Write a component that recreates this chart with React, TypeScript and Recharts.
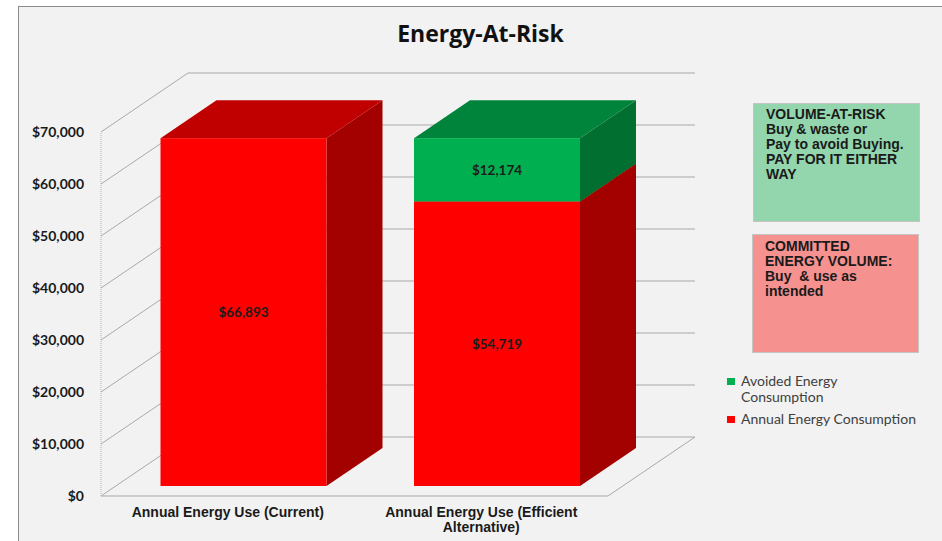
import React from 'react';
import { BarChart, Bar, XAxis, YAxis, CartesianGrid, Legend, LabelList, Text } from 'recharts';

// data
const categories = ['Annual Energy Use (Current)', 'Annual Energy Use (Efficient Alternative)'];
const annualConsumption = [66893, 54719];
const avoidedConsumption = [0, 12174];
const yTicks = [0, 10000, 20000, 30000, 40000, 50000, 60000, 70000];

const data = categories.map((name, i) => ({
  name,
  annual: annualConsumption[i],
  avoided: avoidedConsumption[i],
}));

const W = 942;
const H = 541;
const PLOT_LEFT = 116.5;
const PLOT_RIGHT = 623.5;
const PLOT_TOP = 122;
const PLOT_BOTTOM = 486;

// 3D offsets: front of the walls vs the bar front, wall depth, bar depth
const FX = 15.5;
const FY = 10;
const DX = 87;
const DY = 59;
const BDX = 56;
const BDY = 38;

const GRID = '#a9a9a9';
const FONT = 'Lato, "Open Sans", sans-serif';
const ARIAL = '"Liberation Sans", Arial, sans-serif';

const money = (v: number) => '$' + v.toLocaleString('en-US');

const box3d = (top: string, side: string) => (props: any) => {
  const { x, y, width, height, fill } = props;
  if (!height || height <= 0) return <g />;
  const r = x + width;
  const b = y + height;
  return (
    <g>
      <polygon points={`${r},${y} ${r + BDX},${y - BDY} ${r + BDX},${b - BDY} ${r},${b}`} fill={side} />
      <polygon points={`${x},${y} ${x + BDX},${y - BDY} ${r + BDX},${y - BDY} ${r},${y}`} fill={top} />
      <rect x={x} y={y} width={width} height={height} fill={fill} />
    </g>
  );
};

const gridLine = (p: any) => {
  const { x1, x2, y1, index } = p;
  const fx = x1 - FX;
  const fx2 = x2 - FX;
  const fy = y1 + FY;
  const bx = fx + DX;
  const bx2 = fx2 + DX;
  const by = fy - DY;
  const isFloor = Math.abs(y1 - PLOT_BOTTOM) < 1;
  return (
    <g key={`grid-${index}`}>
      <line x1={fx} y1={fy} x2={bx} y2={by} stroke={GRID} />
      <line x1={bx} y1={by} x2={bx2} y2={by} stroke={GRID} />
      {isFloor && (
        <g>
          <line x1={fx} y1={fy} x2={fx2} y2={fy} stroke={GRID} />
          <line x1={fx2} y1={fy} x2={bx2} y2={by} stroke={GRID} />
          <line x1={fx} y1={fy} x2={fx} y2={PLOT_TOP + FY} stroke="#b5b5b5" strokeDasharray="1 1" />
        </g>
      )}
    </g>
  );
};

const YTick = (p: any) => (
  <text
    x={PLOT_LEFT - FX - 17}
    y={p.y + FY}
    dy={5}
    textAnchor="end"
    fill="#1a1a1a"
    style={{ fontFamily: FONT, fontWeight: 700, fontSize: 14 }}
  >
    {money(p.payload.value)}
  </text>
);

const labelStyle = { fontFamily: ARIAL, fontWeight: 700, fontSize: 14 };

const XTick = (p: any) => (
  <Text
    x={p.x - FX}
    y={PLOT_BOTTOM + 21}
    width={250}
    lineHeight={15}
    textAnchor="middle"
    verticalAnchor="start"
    fill="#1a1a1a"
    style={labelStyle}
  >
    {p.payload.value}
  </Text>
);

const valueLabel = (p: any) => {
  const vb = p.viewBox || p;
  const x = vb.x ?? p.x;
  const y = vb.y ?? p.y;
  const width = vb.width ?? p.width;
  const height = vb.height ?? p.height;
  if (!p.value) return null;
  return (
    <text
      x={x + width / 2}
      y={y + height / 2}
      dy={5}
      textAnchor="middle"
      fill="#1c1c1c"
      style={{ fontFamily: FONT, fontWeight: 700, fontSize: 13.5 }}
    >
      {money(p.value)}
    </text>
  );
};

const LegendContent = ({ payload }: any) => (
  <div style={{ fontFamily: FONT, fontSize: 14, color: '#404040' }}>
    {[...(payload || [])].reverse().map((e: any) => (
      <div key={e.value} style={{ display: 'flex', alignItems: 'flex-start', marginBottom: 7 }}>
        <span style={{ width: 8, height: 7, background: e.color, marginTop: 4, marginRight: 6, flex: 'none' }} />
        <span style={{ lineHeight: '16px', maxWidth: 178, marginTop: -1 }}>{e.value}</span>
      </div>
    ))}
  </div>
);

const noteText = {
  position: 'absolute' as const,
  fontFamily: ARIAL,
  fontWeight: 700,
  fontSize: 14,
  lineHeight: '15px',
  color: '#1a1a1a',
  boxSizing: 'border-box' as const,
  border: '1px solid #c4c4c4',
  width: 167,
  height: 119,
};

export default function App() {
  return (
    <div style={{ position: 'absolute', left: 0, top: 0, width: W, height: H, background: '#fff', overflow: 'hidden' }}>
      <div
        style={{
          position: 'absolute',
          left: 18,
          top: 6,
          width: W,
          height: H,
          background: '#f2f2f2',
          borderLeft: '1px solid #8a8a8a',
          borderTop: '1px solid #8a8a8a',
        }}
      />
      <div
        style={{
          position: 'absolute',
          left: 0,
          width: 961,
          top: 22,
          textAlign: 'center',
          fontFamily: '"Open Sans", Lato, sans-serif',
          fontWeight: 700,
          fontSize: 23,
          lineHeight: '23px',
          color: '#111',
        }}
      >
        Energy-At-Risk
      </div>
      <div style={{ position: 'absolute', left: 0, top: 0 }}>
        <BarChart width={W} height={H} data={data} margin={{ top: PLOT_TOP, right: W - PLOT_RIGHT, left: 0, bottom: H - PLOT_BOTTOM - 30 }}>
          <CartesianGrid vertical={false} horizontal={gridLine} />
          <XAxis dataKey="name" axisLine={false} tickLine={false} interval={0} height={30} tick={XTick} />
          <YAxis
            type="number"
            domain={[0, 70000]}
            ticks={yTicks}
            interval={0}
            axisLine={false}
            tickLine={false}
            width={PLOT_LEFT}
            tick={YTick}
          />
          <Legend
            layout="vertical"
            align="center"
            verticalAlign="middle"
            wrapperStyle={{ left: 727, top: 374, width: 200 }}
            content={<LegendContent />}
          />
          <Bar
            dataKey="annual"
            name="Annual Energy Consumption"
            stackId="s"
            fill="#ff0000"
            barSize={166}
            shape={box3d('#c00000', '#a30000')}
            isAnimationActive={false}
          >
            <LabelList dataKey="annual" content={valueLabel} />
          </Bar>
          <Bar
            dataKey="avoided"
            name="Avoided Energy Consumption"
            stackId="s"
            fill="#00b050"
            barSize={166}
            shape={box3d('#00843b', '#006f2f')}
            isAnimationActive={false}
          >
            <LabelList dataKey="avoided" content={valueLabel} />
          </Bar>
        </BarChart>
      </div>
      <div style={{ ...noteText, left: 753, top: 103, background: '#93d6ad', padding: '3px 0 0 12px' }}>
        VOLUME-AT-RISK
        <br />
        Buy &amp; waste or
        <br />
        Pay to avoid Buying.
        <br />
        PAY FOR IT EITHER
        <br />
        WAY
      </div>
      <div style={{ ...noteText, left: 752, top: 234, background: '#f5918f', padding: '4px 0 0 12px' }}>
        COMMITTED
        <br />
        ENERGY VOLUME:
        <br />
        Buy &nbsp;&amp; use as
        <br />
        intended
      </div>
    </div>
  );
}
